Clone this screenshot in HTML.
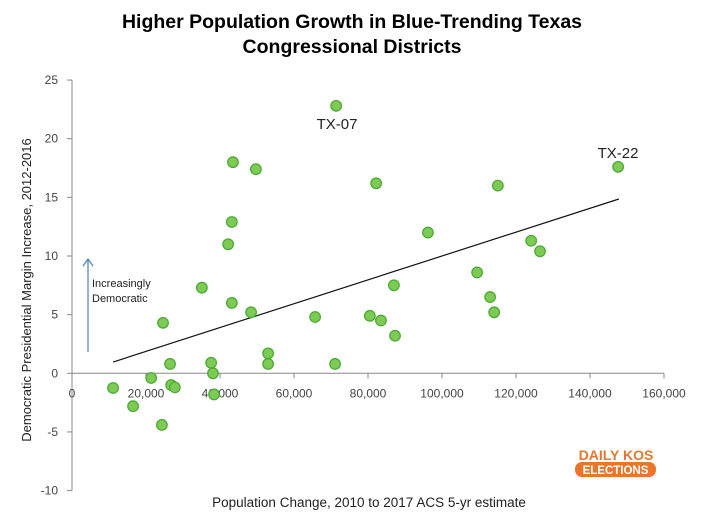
<!DOCTYPE html>
<html><head><meta charset="utf-8"><style>
body{margin:0;background:#fff;}
svg{display:block;font-family:"Liberation Sans",sans-serif;}
</style></head><body>
<svg id="chart" width="704" height="528">
<text x="352" y="28" text-anchor="middle" font-size="19.5" font-weight="bold" fill="#000">Higher Population Growth in Blue-Trending Texas</text>
<text x="352" y="53" text-anchor="middle" font-size="19.5" font-weight="bold" fill="#000">Congressional Districts</text>
<text transform="translate(31,290) rotate(-90)" text-anchor="middle" font-size="13" fill="#222">Democratic  Presidential  Margin Increase, 2012-2016</text>
<text x="369" y="507" text-anchor="middle" font-size="13.5" fill="#222">Population Change, 2010  to 2017 ACS 5-yr estimate</text>
<g id="axes"></g>
<line x1="88" y1="352" x2="88" y2="259" stroke="#4a7ebb" stroke-width="1.2"/>
<polyline points="83,266 88,259 93,266" fill="none" stroke="#4a7ebb" stroke-width="1.2"/>
<text x="92" y="287" font-size="11" fill="#222">Increasingly</text>
<text x="92" y="302" font-size="11" fill="#222">Democratic</text>
<g id="marks"></g>
<text x="337" y="129" text-anchor="middle" font-size="15" fill="#222">TX-07</text>
<text x="618" y="158" text-anchor="middle" font-size="15" fill="#222">TX-22</text>
<g>
<text x="616" y="460" text-anchor="middle" font-size="14" font-weight="bold" fill="#e8762c">DAILY KOS</text>
<rect x="575" y="462" width="81" height="15" rx="7" fill="#e8762c"/>
<text x="615.5" y="474" text-anchor="middle" font-size="11.5" font-weight="bold" fill="#fff">ELECTIONS</text>
</g>
</svg>
<script>
const popChange = [11.1,16.5,21.4,24.3,24.6,26.5,26.8,27.8,35.1,37.6,38.1,38.4,42.2,43.2,43.5,43.2,48.4,49.7,53,53,65.7,71.1,71.4,80.5,82.2,83.5,87,87.3,96.2,109.5,113,114.1,115.1,124.1,126.5,147.6];
const marginIncrease = [-1.25,-2.8,-0.4,-4.4,4.3,0.8,-1.0,-1.2,7.3,0.9,0.0,-1.8,11.0,12.9,18.0,6.0,5.2,17.4,1.7,0.8,4.8,0.8,22.8,4.9,16.2,4.5,7.5,3.2,12.0,8.6,6.5,5.2,16.0,11.3,10.4,17.6];
const trendX = [11.1,147.8];
const trendY = [0.96,14.86];
const xTicks = [0,20,40,60,80,100,120,140,160];
const xTickLabels = ["0","20,000","40,000","60,000","80,000","100,000","120,000","140,000","160,000"];
const yTicks = [25,20,15,10,5,0,-5,-10];
const yTickLabels = ["25","20","15","10","5","0","-5","-10"];

const NS="http://www.w3.org/2000/svg";
const X0=72,XPX=3.7,Y0=373.3,YPX=11.73;
function sx(v){return X0+v*XPX;}
function sy(v){return Y0-v*YPX;}
function mk(tag,attrs,parent){const e=document.createElementNS(NS,tag);for(const k in attrs)e.setAttribute(k,attrs[k]);parent.appendChild(e);return e;}
const axes=document.getElementById('axes');
let a=mk('line',{x1:sx(0),y1:sy(25),x2:sx(0),y2:sy(-10),stroke:'#888'},axes);


a=mk('line',{x1:sx(0),y1:sy(0),x2:sx(160),y2:sy(0),stroke:'#888'},axes);


yTicks.forEach((t,i)=>{
  const l=mk('line',{x1:sx(0)-5,y1:sy(t),x2:sx(0),y2:sy(t),stroke:'#888'},axes);
  
  
  const tx=mk('text',{x:sx(0)-14,y:sy(t)+4,'text-anchor':'end','font-size':12,fill:'#444'},axes);
  tx.textContent=yTickLabels[i];
  
  
});
xTicks.forEach((t,i)=>{
  if(t>0){const l=mk('line',{x1:sx(t),y1:sy(0),x2:sx(t),y2:sy(0)+5,stroke:'#888'},axes);
  
  }
  const tx=mk('text',{x:sx(t),y:sy(0)+24,'text-anchor':'middle','font-size':12,fill:'#444'},axes);
  tx.textContent=xTickLabels[i];
  
  
});
const marks=document.getElementById('marks');
const tl=mk('line',{x1:sx(trendX[0]),y1:sy(trendY[0]),x2:sx(trendX[1]),y2:sy(trendY[1]),stroke:'#111','stroke-width':1.2},marks);


popChange.forEach((v,i)=>{
  const c=mk('circle',{cx:sx(v),cy:sy(marginIncrease[i]),r:5.3,fill:'#7dcb55',stroke:'#48a832','stroke-width':1.2},marks);
  
  
});
</script>
</body></html>
